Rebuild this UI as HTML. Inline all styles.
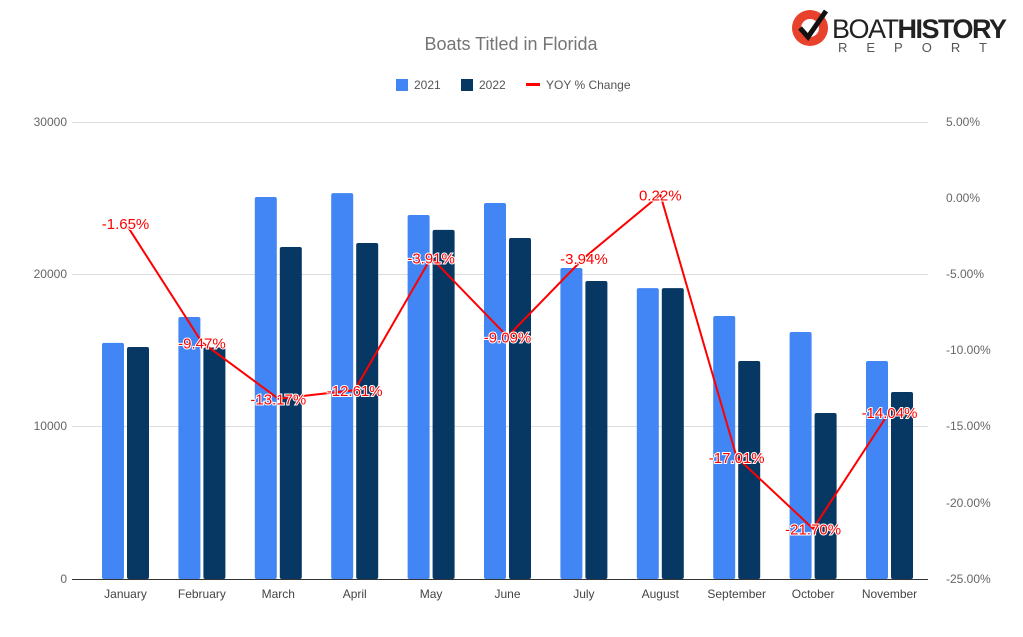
<!DOCTYPE html><html><head><style>body{margin:0;background:#fff}svg{font-family:"Liberation Sans",Arial,sans-serif}</style></head><body>
<svg width="1023" height="632" xmlns="http://www.w3.org/2000/svg">
<rect width="1023" height="632" fill="#fff"/>
<text x="511" y="50" text-anchor="middle" font-size="18" fill="#757575">Boats Titled in Florida</text>
<g font-size="12" fill="#555">
<rect x="396" y="79" width="12" height="12" fill="#4285f4"/><text x="414" y="89">2021</text>
<rect x="461" y="79" width="12" height="12" fill="#073763"/><text x="479" y="89">2022</text>
<rect x="526" y="83" width="14" height="3" fill="#f00"/><text x="546" y="89">YOY % Change</text>
</g>
<g stroke="#ddd" stroke-width="1"><line x1="72" y1="122.5" x2="928" y2="122.5"/><line x1="72" y1="274.5" x2="928" y2="274.5"/><line x1="72" y1="426.5" x2="928" y2="426.5"/></g>
<g font-size="12" fill="#666" text-anchor="end"><text x="67" y="126">30000</text><text x="67" y="278">20000</text><text x="67" y="430">10000</text><text x="67" y="583">0</text></g>
<g font-size="12" fill="#666"><text x="946" y="126">5.00%</text><text x="946" y="202">0.00%</text><text x="946" y="278">-5.00%</text><text x="946" y="354">-10.00%</text><text x="946" y="430">-15.00%</text><text x="946" y="507">-20.00%</text><text x="946" y="583">-25.00%</text></g>
<g id="bars"></g>
<line x1="72" y1="579.5" x2="928" y2="579.5" stroke="#333"/>
<g font-size="12" fill="#444" text-anchor="middle" id="xl"></g>
<polyline id="ln" fill="none" stroke="#f00" stroke-width="2"/>
<g id="lb" font-size="15" fill="#f00" text-anchor="middle" stroke="#fff" stroke-width="2" paint-order="stroke"></g>
<g transform="translate(790,8)">
<circle cx="20" cy="20" r="18" fill="#e8412c"/><circle cx="20" cy="20" r="9" fill="#fff"/>
<path d="M10 20 l8 9 l18 -26" stroke="#111" stroke-width="5" fill="none"/>
<text x="42" y="30" font-size="27" fill="#222" letter-spacing="-1.5">BOAT<tspan font-weight="bold">HISTORY</tspan></text>
<text x="48" y="44" font-size="13" fill="#555" letter-spacing="19">REPORT</text>
</g>
<script>
var m=["January","February","March","April","May","June","July","August","September","October","November"];
var a=[15500,17200,25080,25340,23900,24690,20420,19100,17270,16220,14310];
var b=[15230,15200,21800,22060,22920,22390,19570,19100,14310,10900,12280];
var p=[-1.65,-9.47,-13.17,-12.61,-3.91,-9.09,-3.94,0.22,-17.01,-21.70,-14.04];
var ns="http://www.w3.org/2000/svg",g=document.getElementById("bars"),xl=document.getElementById("xl"),lb=document.getElementById("lb"),pts=[];
function el(t,at,par){var e=document.createElementNS(ns,t);for(var k in at)e.setAttribute(k,at[k]);par.appendChild(e);return e;}
for(var i=0;i<11;i++){var c=125.5+76.4*i;
var ya=579-a[i]*0.01523,yb=579-b[i]*0.01523;
el("rect",{x:c-23.5,y:ya,width:22,height:579-ya,fill:"#4285f4",rx:2},g);
el("rect",{x:c+1.5,y:yb,width:22,height:579-yb,fill:"#073763",rx:2},g);
el("text",{x:c,y:598},xl).textContent=m[i];
var y=198-p[i]*15.24;pts.push(c+","+y);
el("text",{x:c,y:y+6},lb).textContent=p[i].toFixed(2)+"%";}
document.getElementById("ln").setAttribute("points",pts.join(" "));
</script>
</svg></body></html>
